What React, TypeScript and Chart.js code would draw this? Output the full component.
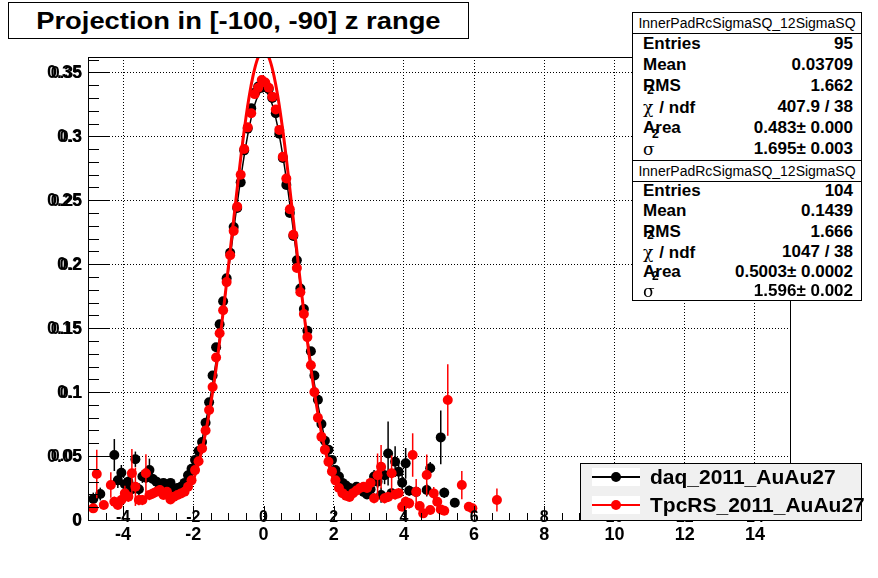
import React, { useEffect, useRef } from "react";
import { Chart, registerables } from "chart.js";

Chart.register(...registerables);

const FONT = '"Liberation Sans", Arial, Helvetica, sans-serif';

const titleText = "Projection in [-100, -90] z range";
const statHeader = "InnerPadRcSigmaSQ_12SigmaSQ";
const statLabels = ["Entries", "Mean", "RMS", "chi", "Area", "sigma"];
const daqStats = ["95", "0.03709", "1.662", "407.9 / 38", "0.483\u00b1 0.000", "1.695\u00b1 0.003"];
const tpcStats = ["104", "0.1439", "1.666", "1047 / 38", "0.5003\u00b1 0.0002", "1.596\u00b1 0.002"];
const legendNames = ["daq_2011_AuAu27", "TpcRS_2011_AuAu27"];

const xTickValues = [-4, -2, 0, 2, 4, 6, 8, 10, 12, 14];
const xTickLabels = ["-4", "-2", "0", "2", "4", "6", "8", "10", "12", "14"];
const yTickValues = [0, 0.05, 0.1, 0.15, 0.2, 0.25, 0.3, 0.35];
const yTickLabels = ["0", "0.05", "0.1", "0.15", "0.2", "0.25", "0.3", "0.35"];

const daqX = [
  -4.85, -4.65, -4.25, -4.15, -4.05, -3.95, -3.85, -3.75, -3.65, -3.55, -3.45, -3.35, -3.25, -3.15, -3.05,
  -2.95, -2.85, -2.75, -2.65, -2.55, -2.45, -2.35, -2.25, -2.15, -2.05,
  -1.95, -1.85, -1.75, -1.65, -1.55, -1.45, -1.35, -1.25, -1.15, -1.05, -0.95, -0.85, -0.75, -0.65, -0.55,
  -0.45, -0.35, -0.25, -0.15, -0.05, 0.05, 0.15, 0.25, 0.35, 0.45, 0.55, 0.65, 0.75, 0.85, 0.95, 1.05, 1.15,
  1.25, 1.35, 1.45, 1.55, 1.65, 1.75, 1.85, 1.95,
  2.05, 2.15, 2.25, 2.35, 2.45, 2.55, 2.65, 2.75, 2.85, 2.95, 3.05, 3.15, 3.25, 3.35, 3.45, 3.55, 3.65, 3.75,
  3.85, 3.95, 4.05, 4.15, 4.35, 4.65, 4.75, 5.05, 5.15, 5.45,
];
const daqY = [
  0.0164, 0.0203, 0.0508, 0.031, 0.037, 0.028, 0.03, 0.024, 0.0475, 0.024, 0.034, 0.033, 0.039, 0.032, 0.03,
  0.027, 0.029, 0.026, 0.029, 0.024, 0.025, 0.026, 0.029, 0.035, 0.04,
  0.047, 0.054, 0.061, 0.076, 0.092, 0.113, 0.135, 0.153, 0.171, 0.189, 0.209, 0.229, 0.244, 0.264, 0.289,
  0.306, 0.322, 0.334, 0.339, 0.338, 0.34, 0.337, 0.33, 0.318, 0.302, 0.283, 0.262, 0.24, 0.222, 0.203, 0.181,
  0.165, 0.148, 0.132, 0.113, 0.094, 0.075, 0.062, 0.055, 0.047,
  0.039, 0.034, 0.029, 0.027, 0.025, 0.023, 0.026, 0.025, 0.022, 0.02, 0.024, 0.034, 0.03, 0.0195, 0.035,
  0.052, 0.021, 0.0456, 0.0378, 0.0292, 0.0443, 0.0229, 0.022, 0.0234, 0.0404, 0.0646, 0.0213, 0.0135,
];
const daqErr = [
  0.005, 0.005, 0.0125, 0.006, 0.006, 0.005, 0.005, 0.005, 0.006, 0.005, 0.005, 0.004, 0.009, 0.004, 0.004,
  0.003, 0.003, 0.003, 0.003, 0.003, 0.003, 0.003, 0.003, 0.003, 0.003,
  0.002, 0.002, 0.002, 0.002, 0.002, 0.002, 0.002, 0.002, 0.002, 0.002, 0.002, 0.002, 0.002, 0.002, 0.002,
  0.002, 0.002, 0.002, 0.002, 0.002, 0.002, 0.002, 0.002, 0.002, 0.002, 0.002, 0.002, 0.002, 0.002, 0.002,
  0.002, 0.002, 0.002, 0.002, 0.002, 0.002, 0.002, 0.002, 0.002, 0.002,
  0.003, 0.003, 0.003, 0.003, 0.003, 0.003, 0.003, 0.003, 0.003, 0.003, 0.004, 0.005, 0.005, 0.006, 0.007,
  0.025, 0.004, 0.012, 0.006, 0.01, 0.012, 0.004, 0.004, 0.005, 0.005, 0.021, 0.004, 0.003,
];

const tpcX = [
  -4.85, -4.75, -4.55, -4.35, -4.25, -4.15, -4.05, -3.95, -3.85, -3.75, -3.65, -3.55, -3.45, -3.35, -3.25,
  -3.15, -3.05, -2.95, -2.85, -2.75, -2.65, -2.55, -2.45, -2.35, -2.25, -2.15, -2.05,
  -1.95, -1.85, -1.75, -1.65, -1.55, -1.45, -1.35, -1.25, -1.15, -1.05, -0.95, -0.85, -0.75, -0.65, -0.55,
  -0.45, -0.35, -0.25, -0.15, -0.05, 0.05, 0.15, 0.25, 0.35, 0.45, 0.55, 0.65, 0.75, 0.85, 0.95, 1.05, 1.15,
  1.25, 1.35, 1.45, 1.55, 1.65, 1.75, 1.85, 1.95,
  2.05, 2.15, 2.25, 2.35, 2.45, 2.55, 2.65, 2.75, 2.85, 2.95, 3.05, 3.15, 3.25, 3.35, 3.45, 3.55, 3.65, 3.75,
  3.85, 3.95, 4.05, 4.15, 4.25, 4.35, 4.45, 4.55, 4.65, 4.75, 4.85, 4.95, 5.05, 5.15, 5.25, 5.65, 5.85, 5.95,
  6.65,
];
const tpcY = [
  0.0091, 0.036, 0.0117, 0.0273, 0.0143, 0.0117, 0.0156, 0.0208, 0.0182, 0.0365, 0.026, 0.0156, 0.0156,
  0.0365, 0.0195, 0.0208, 0.0221, 0.0234, 0.0195, 0.0221, 0.0161, 0.0182, 0.0195, 0.0208, 0.0221, 0.026, 0.031,
  0.039, 0.046, 0.056, 0.07, 0.086, 0.104, 0.127, 0.146, 0.164, 0.186, 0.207, 0.226, 0.245, 0.27, 0.29,
  0.307, 0.318, 0.333, 0.338, 0.344, 0.342, 0.338, 0.331, 0.321, 0.305, 0.284, 0.267, 0.243, 0.223, 0.197,
  0.178, 0.161, 0.143, 0.121, 0.1, 0.08, 0.065, 0.055, 0.0456, 0.038,
  0.031, 0.025, 0.021, 0.019, 0.018, 0.021, 0.023, 0.025, 0.026, 0.025, 0.029, 0.017, 0.035, 0.0417, 0.017,
  0.018, 0.0365, 0.02, 0.021, 0.0104, 0.0143, 0.013, 0.0508, 0.022, 0.011, 0.0052, 0.0352, 0.0078, 0.0208,
  0.0143, 0.0083, 0.0073, 0.0938, 0.0273, 0.0104, 0.0091, 0.0156,
];
const tpcErr = [
  0.003, 0.019, 0.003, 0.01, 0.004, 0.003, 0.004, 0.006, 0.004, 0.019, 0.015, 0.004, 0.004, 0.015, 0.004,
  0.004, 0.004, 0.004, 0.003, 0.003, 0.003, 0.003, 0.003, 0.003, 0.003, 0.003, 0.003,
  0.002, 0.002, 0.002, 0.002, 0.002, 0.002, 0.002, 0.002, 0.002, 0.002, 0.002, 0.002, 0.002, 0.002, 0.002,
  0.002, 0.002, 0.002, 0.002, 0.002, 0.002, 0.002, 0.002, 0.002, 0.002, 0.002, 0.002, 0.002, 0.002, 0.002,
  0.002, 0.002, 0.002, 0.002, 0.002, 0.002, 0.002, 0.002, 0.002, 0.002,
  0.003, 0.003, 0.003, 0.003, 0.003, 0.003, 0.003, 0.003, 0.003, 0.003, 0.004, 0.004, 0.017, 0.017, 0.004,
  0.004, 0.014, 0.004, 0.004, 0.003, 0.004, 0.004, 0.017, 0.01, 0.003, 0.002, 0.016, 0.002, 0.005, 0.004,
  0.002, 0.002, 0.028, 0.011, 0.003, 0.003, 0.009,
];

const fitX = [
  -2, -1.9, -1.8, -1.7, -1.6, -1.5, -1.4, -1.3, -1.2, -1.1, -1, -0.9, -0.8, -0.7, -0.6, -0.5, -0.4, -0.3, -0.2,
  -0.1, 0, 0.1, 0.2, 0.3, 0.4, 0.5, 0.6, 0.7, 0.8, 0.9, 1, 1.1, 1.2, 1.3, 1.4, 1.5, 1.6, 1.7, 1.8, 1.9, 2,
];
const tpcFitY = [
  0.0311, 0.0395, 0.0497, 0.0617, 0.0755, 0.0915, 0.109, 0.129, 0.151, 0.174, 0.198, 0.2226, 0.247, 0.271,
  0.294, 0.3146, 0.3325, 0.347, 0.358, 0.3647, 0.367, 0.3647, 0.358, 0.347, 0.3325, 0.3146, 0.294, 0.271,
  0.247, 0.2226, 0.198, 0.174, 0.151, 0.129, 0.109, 0.0915, 0.0755, 0.0617, 0.0497, 0.0395, 0.0311,
];
const daqFitY = [
  0.0378, 0.0467, 0.0572, 0.0693, 0.0829, 0.0982, 0.1152, 0.1335, 0.153, 0.1734, 0.1946, 0.2158, 0.2369,
  0.2571, 0.276, 0.2931, 0.3079, 0.3199, 0.3287, 0.3342, 0.336, 0.3342, 0.3287, 0.3199, 0.3079, 0.2931, 0.276,
  0.2571, 0.2369, 0.2158, 0.1946, 0.1734, 0.153, 0.1335, 0.1152, 0.0982, 0.0829, 0.0693, 0.0572, 0.0467, 0.0378,
];

const X_MIN = -5;
const X_MAX = 15;
const Y_MIN = 0;
const Y_MAX = 0.362;

const rootPlugin = {
  id: "rootStyle",
  beforeDatasetDraw(chart: any, args: any) {
    const ds = chart.data.datasets[args.index];
    if (!ds.errors) return;
    const { ctx, chartArea } = chart;
    const xs = chart.scales.x;
    const ys = chart.scales.y;
    ctx.save();
    ctx.beginPath();
    ctx.rect(chartArea.left, chartArea.top, chartArea.right - chartArea.left, chartArea.bottom - chartArea.top);
    ctx.clip();
    ctx.strokeStyle = ds.pointBackgroundColor;
    ctx.lineWidth = 1.5;
    ds.data.forEach((p: any, i: number) => {
      const e = ds.errors[i];
      const px = xs.getPixelForValue(p.x);
      ctx.beginPath();
      ctx.moveTo(px, ys.getPixelForValue(p.y - e));
      ctx.lineTo(px, ys.getPixelForValue(p.y + e));
      ctx.stroke();
    });
    ctx.restore();
  },
  afterDatasetsDraw(chart: any) {
    const { ctx, chartArea } = chart;
    const xs = chart.scales.x;
    const ys = chart.scales.y;
    const { left, right, top, bottom } = chartArea;
    ctx.save();
    ctx.strokeStyle = "#000";
    ctx.lineWidth = 1;
    // x ticks (inside)
    for (let v = X_MIN; v <= X_MAX + 1e-9; v += 0.5) {
      const px = Math.round(xs.getPixelForValue(v)) + 0.5;
      const major = xTickValues.some((t) => Math.abs(t - v) < 1e-6);
      const len = major ? 14 : 7;
      ctx.beginPath();
      ctx.moveTo(px, bottom);
      ctx.lineTo(px, bottom - len);
      ctx.stroke();
    }
    // y ticks (inside)
    for (let v = 0; v <= Y_MAX + 1e-9; v += 0.01) {
      const py = Math.round(ys.getPixelForValue(v)) + 0.5;
      const major = yTickValues.some((t) => Math.abs(t - v) < 1e-6);
      const len = major ? 21 : 11;
      ctx.beginPath();
      ctx.moveTo(left, py);
      ctx.lineTo(left + len, py);
      ctx.stroke();
    }
    // frame
    ctx.strokeRect(Math.round(left) + 0.5, Math.round(top) + 0.5, Math.round(right - left), Math.round(bottom - top));
    ctx.fillStyle = "#000";
    ctx.textBaseline = "middle";
    // main axis labels
    ctx.font = `bold 18px ${FONT}`;
    ctx.textAlign = "center";
    xTickValues.forEach((v, i) => {
      ctx.fillText(xTickLabels[i], xs.getPixelForValue(v), bottom + 15);
    });
    ctx.textAlign = "right";
    yTickValues.forEach((v, i) => {
      ctx.fillText(yTickLabels[i], left - 6, ys.getPixelForValue(v) + 1);
    });
    // secondary (overdrawn) axis labels
    ctx.font = `bold 16px ${FONT}`;
    ctx.textAlign = "center";
    xTickValues.forEach((v, i) => {
      ctx.fillText(xTickLabels[i], xs.getPixelForValue(v), bottom - 2);
    });
    ctx.textAlign = "right";
    yTickValues.forEach((v, i) => {
      ctx.fillText(yTickLabels[i], left - 6, ys.getPixelForValue(v) + 1);
    });
    ctx.restore();
  },
};

function StatBox(props: { top: number; height: number; headerH: number; values: string[]; centers: number[] }) {
  const { top, height, headerH, values, centers } = props;
  const rowStyle = (c: number): React.CSSProperties => ({
    position: "absolute",
    left: 0,
    right: 0,
    top: c - top - 11,
    height: 22,
    lineHeight: "22px",
  });
  const renderLabel = (name: string) => {
    if (name === "chi") {
      return (
        <span style={{ position: "relative" }}>
          <span style={{ fontFamily: '"DejaVu Serif", "Liberation Serif", serif', fontWeight: "normal", fontSize: 17 }}>χ</span>
          <span style={{ position: "absolute", left: 4, top: -14, fontSize: 12, lineHeight: "12px" }}>2</span>
          <span style={{ marginLeft: 6 }}>/ ndf</span>
        </span>
      );
    }
    if (name === "sigma") {
      return (
        <span style={{ position: "relative" }}>
          <span style={{ fontFamily: '"DejaVu Serif", "Liberation Serif", serif', fontWeight: "normal", fontSize: 17 }}>σ</span>
          <span style={{ position: "absolute", left: 9, top: -12, fontSize: 12, lineHeight: "12px" }}>2</span>
        </span>
      );
    }
    return name;
  };
  return (
    <div
      style={{
        position: "absolute",
        left: 632,
        top,
        width: 230,
        height,
        boxSizing: "border-box",
        border: "1px solid #000",
        background: "#fff",
        fontFamily: FONT,
      }}
    >
      <div
        style={{
          height: headerH,
          boxSizing: "border-box",
          borderBottom: "1px solid #000",
          textAlign: "center",
          fontSize: 14,
          lineHeight: `${headerH - 1}px`,
        }}
      >
        {statHeader}
      </div>
      {statLabels.map((name, i) => (
        <div key={name} style={rowStyle(centers[i])}>
          <span style={{ position: "absolute", left: 10, fontWeight: "bold", fontSize: 17 }}>{renderLabel(name)}</span>
          <span style={{ position: "absolute", right: 8, fontWeight: "bold", fontSize: 17 }}>{values[i]}</span>
        </div>
      ))}
    </div>
  );
}

function LegendEntry(props: { top: number; color: string; text: string }) {
  const { top, color, text } = props;
  return (
    <>
      <div style={{ position: "absolute", left: 11, top: top - 9, width: 48, height: 18, background: "#fff" }} />
      <div style={{ position: "absolute", left: 11, top: top - 1, width: 48, height: 1.5, background: color }} />
      <div
        style={{
          position: "absolute",
          left: 30,
          top: top - 5,
          width: 10,
          height: 10,
          borderRadius: "50%",
          background: color,
        }}
      />
      <div
        style={{
          position: "absolute",
          left: 69,
          top: top - 13,
          height: 26,
          lineHeight: "26px",
          fontWeight: "bold",
          fontSize: 21,
          whiteSpace: "nowrap",
        }}
      >
        {text}
      </div>
    </>
  );
}

export default function App() {
  const ref = useRef<HTMLCanvasElement>(null);

  useEffect(() => {
    const canvas = ref.current;
    if (!canvas) return;
    const chart = new Chart(canvas, {
      type: "scatter",
      data: {
        datasets: [
          {
            label: "TpcRS fit",
            type: "line",
            data: fitX.map((x, i) => ({ x, y: tpcFitY[i] })),
            borderColor: "#ff0000",
            borderWidth: 3,
            pointRadius: 0,
            tension: 0.3,
            fill: false,
            order: 0,
          } as any,
          {
            label: legendNames[1],
            data: tpcX.map((x, i) => ({ x, y: tpcY[i] })),
            pointRadius: 5,
            pointHoverRadius: 5,
            pointBackgroundColor: "#ff0000",
            pointBorderWidth: 0,
            borderColor: "#ff0000",
            showLine: false,
            errors: tpcErr,
            order: 1,
          } as any,
          {
            label: "daq fit",
            type: "line",
            data: fitX.map((x, i) => ({ x, y: daqFitY[i] })),
            borderColor: "#000000",
            borderWidth: 1.5,
            pointRadius: 0,
            tension: 0.3,
            fill: false,
            order: 2,
          } as any,
          {
            label: legendNames[0],
            data: daqX.map((x, i) => ({ x, y: daqY[i] })),
            pointRadius: 5,
            pointHoverRadius: 5,
            pointBackgroundColor: "#000000",
            pointBorderWidth: 0,
            borderColor: "#000000",
            showLine: false,
            errors: daqErr,
            order: 3,
          } as any,
        ],
      },
      options: {
        animation: false,
        responsive: false,
        events: [],
        layout: { padding: { left: 88, right: 88, top: 57, bottom: 58 } },
        plugins: { legend: { display: false }, tooltip: { enabled: false }, title: { display: false } },
        scales: {
          x: {
            type: "linear",
            min: X_MIN,
            max: X_MAX,
            afterFit: (s: any) => {
              s.height = 0;
            },
            afterBuildTicks: (s: any) => {
              s.ticks = xTickValues.map((v) => ({ value: v }));
            },
            ticks: { display: false },
            grid: { color: "#000", lineWidth: 1, drawTicks: false },
            border: { display: false, dash: [1, 2] },
          },
          y: {
            type: "linear",
            min: Y_MIN,
            max: Y_MAX,
            afterFit: (s: any) => {
              s.width = 0;
            },
            afterBuildTicks: (s: any) => {
              s.ticks = yTickValues.map((v) => ({ value: v }));
            },
            ticks: { display: false },
            grid: { color: "#000", lineWidth: 1, drawTicks: false },
            border: { display: false, dash: [1, 2] },
          },
        },
      } as any,
      plugins: [rootPlugin as any],
    });
    return () => chart.destroy();
  }, []);

  return (
    <div
      style={{
        position: "absolute",
        left: 0,
        top: 0,
        width: 878,
        height: 578,
        background: "#fff",
        fontFamily: FONT,
        overflow: "hidden",
      }}
    >
      <canvas ref={ref} width={878} height={578} style={{ position: "absolute", left: 0, top: 0, width: 878, height: 578 }} />
      <div
        style={{
          position: "absolute",
          left: 8,
          top: 2,
          width: 461,
          height: 37,
          boxSizing: "border-box",
          border: "1px solid #000",
          background: "#fff",
          textAlign: "center",
          lineHeight: "35px",
          fontWeight: "bold",
          fontSize: 24,
          whiteSpace: "nowrap",
        }}
      >
        <span style={{ display: "inline-block", transform: "scaleX(1.14)" }}>{titleText}</span>
      </div>
      <StatBox top={12} height={149} headerH={21} values={daqStats} centers={[43, 64, 85, 106, 127, 148]} />
      <StatBox top={160} height={141} headerH={21} values={tpcStats} centers={[190, 210, 231, 251, 271, 290]} />
      <div
        style={{
          position: "absolute",
          left: 580,
          top: 463,
          width: 282,
          height: 58,
          boxSizing: "border-box",
          border: "1px solid #000",
          background: "#f0f0f0",
          fontFamily: FONT,
        }}
      >
        <LegendEntry top={13} color="#000000" text={legendNames[0]} />
        <LegendEntry top={41} color="#ff0000" text={legendNames[1]} />
      </div>
    </div>
  );
}
